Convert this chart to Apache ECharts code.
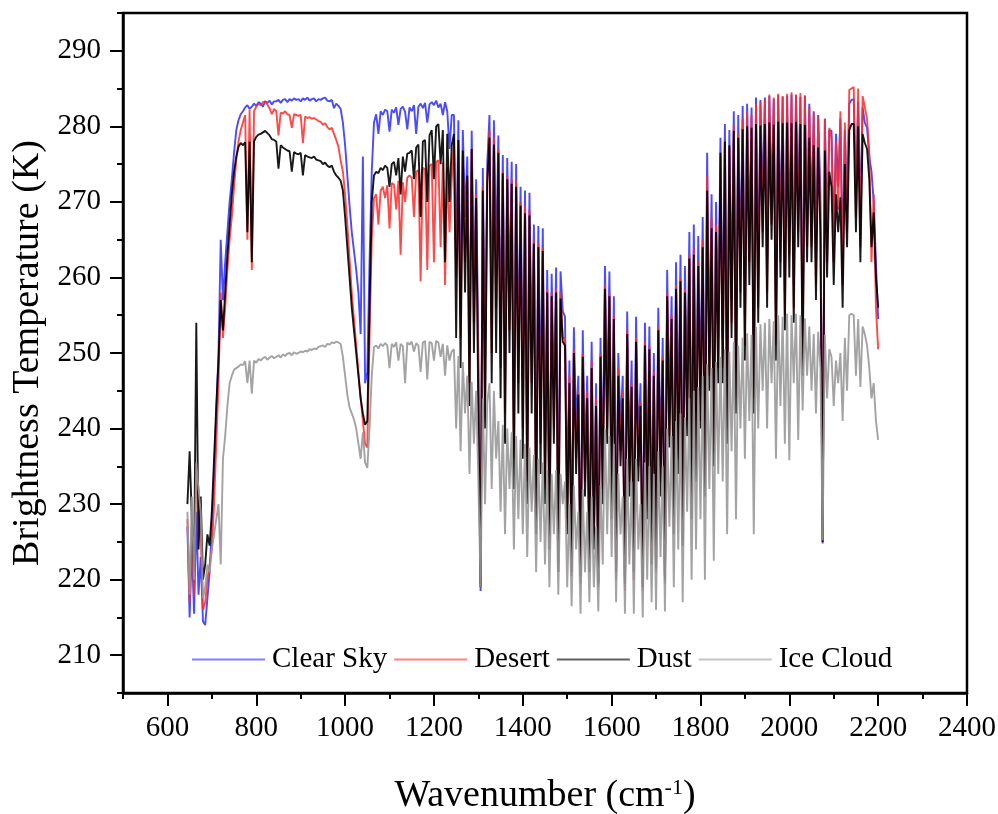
<!DOCTYPE html>
<html lang="en">
<head>
    <meta charset="UTF-8">
    <title>Brightness Temperature</title>
    <script src="https://cdn.jsdelivr.net/npm/echarts@6/dist/echarts.min.js"></script>
</head>
<body style="margin: 0; background-color: #FFFFFF">
<div id="container" style="width: 998px; height: 814px"></div>
<script type="text/javascript">
    // 波数 (cm-1)
    const wavenumber = [
        645, 650, 655, 660, 665, 670, 675, 680, 685, 690,
        695, 700, 705, 710, 715, 720, 725, 730, 735, 740,
        745, 750, 755, 760, 765, 770, 775, 780, 785, 790,
        795, 800, 805, 810, 815, 820, 825, 830, 835, 840,
        845, 850, 855, 860, 865, 870, 875, 880, 885, 890,
        895, 900, 905, 910, 915, 920, 925, 930, 935, 940,
        945, 950, 955, 960, 965, 970, 975, 980, 985, 990,
        995, 1000, 1005, 1010, 1015, 1020, 1025, 1030, 1035, 1040,
        1045, 1050, 1055, 1060, 1065, 1070, 1075, 1080, 1085, 1090,
        1095, 1100, 1105, 1110, 1115, 1120, 1125, 1130, 1135, 1140,
        1145, 1150, 1155, 1160, 1165, 1170, 1175, 1180, 1185, 1190,
        1195, 1200, 1205, 1210, 1215, 1220, 1225, 1230, 1235, 1240,
        1245, 1250, 1255, 1260, 1265, 1270, 1275, 1280, 1285, 1290,
        1295, 1300, 1305, 1310, 1315, 1320, 1325, 1330, 1335, 1340,
        1345, 1350, 1355, 1360, 1365, 1370, 1375, 1380, 1385, 1390,
        1395, 1400, 1405, 1410, 1415, 1420, 1425, 1430, 1435, 1440,
        1445, 1450, 1455, 1460, 1465, 1470, 1475, 1480, 1485, 1490,
        1495, 1500, 1505, 1510, 1515, 1520, 1525, 1530, 1535, 1540,
        1545, 1550, 1555, 1560, 1565, 1570, 1575, 1580, 1585, 1590,
        1595, 1600, 1605, 1610, 1615, 1620, 1625, 1630, 1635, 1640,
        1645, 1650, 1655, 1660, 1665, 1670, 1675, 1680, 1685, 1690,
        1695, 1700, 1705, 1710, 1715, 1720, 1725, 1730, 1735, 1740,
        1745, 1750, 1755, 1760, 1765, 1770, 1775, 1780, 1785, 1790,
        1795, 1800, 1805, 1810, 1815, 1820, 1825, 1830, 1835, 1840,
        1845, 1850, 1855, 1860, 1865, 1870, 1875, 1880, 1885, 1890,
        1895, 1900, 1905, 1910, 1915, 1920, 1925, 1930, 1935, 1940,
        1945, 1950, 1955, 1960, 1965, 1970, 1975, 1980, 1985, 1990,
        1995, 2000, 2005, 2010, 2015, 2020, 2025, 2030, 2035, 2040,
        2045, 2050, 2055, 2060, 2065, 2070, 2075, 2080, 2085, 2090,
        2095, 2100, 2105, 2110, 2115, 2120, 2125, 2130, 2135, 2140,
        2145, 2150, 2155, 2160, 2165, 2170, 2175, 2180, 2185, 2190,
        2195, 2200
    ];

    const clearSky = [
        227, 215, 224.5, 215.5, 229, 218, 223, 214.5, 214, 217.5,
        221, 227, 234, 242, 250, 265, 257, 262, 266, 270,
        273, 276.5, 279.5, 280.8, 281.6, 282, 282.5, 282.8, 282.3, 282.6,
        283, 282.7, 283.2, 283, 282.6, 283.3, 283.1, 283.4, 282.9, 283.3,
        283.3, 283.5, 283.1, 283.5, 283.6, 283.2, 283.6, 283.4, 283.7, 283.5,
        283.6, 283.3, 283.7, 283.5, 283.8, 283.4, 283.6, 283.7, 283.3, 283.6,
        283.5, 283.7, 283.8, 283.4, 283.3, 283.5, 282.4, 283, 282.7, 282.3,
        280.5, 277.5, 273.5, 269.5, 266, 263.5, 261, 258, 252.5, 276,
        246, 247.5, 262, 274, 280.5, 281.6, 279, 282, 281.5, 282.2,
        282, 279.3, 282.2, 281.8, 282.5, 280.2, 282.3, 282.6, 281.9, 279.6,
        282.5, 282, 282.8, 279, 282.6, 283, 282.4, 283.1, 280.5, 282.9,
        283.2, 282.8, 283.4, 282.5, 283, 281.5, 283.2, 282, 277, 281.5,
        281.5, 262, 280.8, 255, 279.5, 268, 276, 250, 279.4, 258,
        273, 250, 218.5, 274.5, 249, 275, 281.5, 254, 280.8, 262,
        278.8, 252, 276.2, 246, 275.8, 258, 275.3, 240, 275, 250,
        272, 246, 271.5, 238, 271.2, 250, 267, 232, 266.8, 244,
        266.5, 236, 261, 228, 260.5, 244, 261.3, 226, 260.8, 255.5,
        254.8, 231, 249, 222, 253.4, 240, 247, 219.5, 253, 236,
        247, 224, 251.5, 228, 246, 219, 252, 235, 261.5, 243,
        260.8, 232, 257.5, 222, 250, 240, 247, 219, 255.5, 236,
        249, 222, 254.8, 238, 246, 219.5, 254, 232, 253.5, 226,
        250, 224, 256, 236, 252, 220.5, 261, 242, 257.5, 230,
        262, 240, 263, 228, 261.5, 245, 266, 233, 267, 238,
        265.5, 245, 268, 236, 276.5, 250, 271, 240, 270, 252,
        278.5, 252, 280.3, 244, 279.5, 257, 282, 248, 281.5, 262,
        282.7, 255, 283, 265, 282.5, 247, 283.8, 260, 283.5, 270,
        283.8, 262, 284, 270, 283.6, 255, 284.1, 266, 283.9, 258,
        284, 266, 284.2, 259, 284.1, 270, 283.9, 252, 284, 268,
        283, 268, 282, 262, 281.5, 271, 224.8, 281, 266, 279.5,
        279.4, 265, 279, 272, 281, 262, 279.5, 270, 283, 283.5,
        283.6, 272, 283.3, 268, 282.5, 280.5, 279.8, 276, 274, 270,
        262, 254.5
    ];

    const desert = [
        228, 217, 227, 218, 235, 232, 226, 216, 217, 220,
        222, 224, 230, 238, 246, 258, 252, 256, 261, 265,
        268, 272, 275.5, 278, 279.5, 280.5, 281.5, 265, 282.2, 261,
        282, 282.6, 283, 282.8, 283.2, 283.3, 282.9, 282.4, 281.6, 282.3,
        282, 278.8, 281.8, 281.7, 282, 281.6, 281.5, 279.8, 281.6, 281.5,
        281.4, 281.5, 277.8, 281.3, 281.1, 281.2, 281, 281.1, 280.9, 280.7,
        280.6, 280.2, 280.4, 279.9, 279.6, 279.8, 279, 278.2, 277.3, 275.5,
        274, 271, 267, 262.5, 258, 254.5, 251, 247.5, 244, 241,
        238, 237.5, 252, 265, 270.5, 271, 267, 271.5, 272, 270.5,
        272.2, 266.5, 272.5, 272.3, 269, 272.8, 263, 272.6, 270, 273.2,
        273.5, 273.2, 268, 274, 274.2, 259.5, 274.5, 274.3, 261, 274.8,
        275, 262, 275.3, 275.5, 264, 275.2, 259, 274.5, 266, 273,
        278, 260, 277.5, 252, 276, 262, 273, 246, 276.8, 254,
        271, 246, 219.5, 272, 244, 273, 279.5, 250, 278.5, 256,
        277, 248, 274, 242, 273.5, 253, 273, 236, 272.8, 246,
        270, 240, 269.5, 233, 269, 246, 265, 228, 264.5, 238,
        264, 232, 258.5, 225, 258, 240, 258.5, 222, 258, 252,
        252, 228, 247, 220.5, 250.5, 236, 245, 220, 250, 233,
        245, 222, 249, 226, 244, 220, 250, 232, 259, 240,
        258, 229, 255, 220, 248, 237, 245, 218.5, 253, 233,
        246, 220, 252, 235, 243.5, 218.5, 251.5, 229, 251, 223,
        247.5, 221, 253.5, 233, 249.5, 219.5, 258, 239, 255, 227,
        259, 236, 260, 225, 258.5, 241, 263, 230, 264, 235,
        262, 241, 265, 232, 273.5, 247, 268, 237, 267, 248,
        276, 248, 278, 240, 277.2, 254, 280, 244, 279, 258,
        281, 251, 282, 262, 281.5, 244, 283, 256, 283.2, 266,
        283.5, 258, 284.2, 267, 283.8, 251, 284.3, 262, 284, 255,
        284.3, 263, 284.5, 256, 284.2, 266, 284.4, 249, 284.1, 264,
        282.6, 264, 281.8, 259, 281.3, 268, 225.2, 281, 262, 279.8,
        278.5, 262, 278, 269, 282, 259, 280.5, 266, 284.8, 285,
        285.2, 268, 285, 264, 284, 282.5, 281, 276.5, 262, 271,
        256, 250.5
    ];

    const dust = [
        230, 237, 228, 221, 254, 224, 231, 220, 222, 226,
        224.5, 229, 236, 243, 249, 257, 253, 258, 263, 267,
        271, 274, 276, 277.3, 277.8, 277.5, 277.9, 266, 278, 262,
        278, 278.6, 278.9, 279, 279.2, 279.4, 279.1, 278.8, 278.3, 278.2,
        278, 274.4, 277.5, 277.2, 277, 276.8, 276.7, 274, 276.6, 276.4,
        276.3, 276.5, 273.5, 276.2, 276, 275.9, 275.8, 276, 275.6, 275.5,
        275.4, 275, 275.2, 274.8, 274.6, 274.8, 274, 273.5, 273.2, 272.8,
        271.5, 268, 264, 260, 256, 253, 250, 247, 244, 242,
        240.5, 241, 256, 270, 273.5, 274, 273.8, 274.5, 274.2, 274.8,
        274.5, 272, 275, 275.3, 273.5, 275.8, 271, 276, 274, 276.4,
        276.5, 276.8, 273, 277.2, 277.6, 268, 278, 278.2, 270, 278.8,
        279.5, 273, 280, 280.3, 275, 279.5, 262, 279, 270, 277.5,
        279, 252, 278.2, 248, 276.8, 258, 273.5, 243, 277, 250,
        270.5, 242, 219, 271.5, 240, 272.5, 278.5, 246, 277.6, 250,
        276.5, 244, 273.8, 238, 273, 250, 272.4, 232, 272, 242,
        269.5, 236, 268.5, 230, 268.2, 242, 264.5, 226, 264, 234,
        263.5, 230, 258, 224, 257.5, 238, 258, 221, 257.2, 251.5,
        251, 226, 246, 221, 250, 234, 244.5, 220.5, 249.5, 231,
        244, 221, 248, 224, 243, 219.5, 249.5, 230, 258.5, 238,
        257.5, 228, 254.5, 221, 247, 235, 244, 219.5, 252.5, 231,
        245.5, 221, 251.5, 233, 243, 219, 251, 228, 250.5, 222,
        247, 221.5, 253, 231, 249, 220, 257.5, 237.5, 254.5, 226,
        258.5, 234, 259.5, 224.5, 258, 239, 262.5, 228, 263, 233,
        261.5, 240, 264, 231, 271.5, 245, 266.5, 235, 266, 246,
        276.5, 246, 278, 238, 277.5, 252, 279.4, 242, 278.5, 256,
        279.6, 249, 280, 259, 279.8, 242, 280.3, 254, 280.1, 264,
        280.3, 256, 280.5, 265, 280.2, 249, 280.6, 260, 280.4, 253,
        280.5, 260, 280.4, 254, 280.6, 264, 280.3, 247, 280.2, 262,
        278.5, 262, 277.5, 257, 277.2, 266, 225, 276.8, 260, 274,
        272, 259, 271, 266, 270.6, 256, 275, 264, 279.5, 280.3,
        280.3, 266, 280, 262, 279, 277.8, 277, 273, 264, 268.6,
        260, 256
    ];

    const iceCloud = [
        229, 218, 231, 220, 235.5, 232, 229, 217.5, 219, 222,
        221, 224, 226, 228, 230, 222, 236, 239, 243, 246,
        247, 247.8, 248, 248.2, 248.5, 248.4, 248.9, 246, 249, 244.6,
        249, 248.7, 249.2, 249, 249.3, 249.5, 249.1, 249.4, 249.6, 249.3,
        249.5, 249.7, 249.4, 249.8, 249.6, 249.9, 250, 249.7, 250.1, 249.9,
        250, 250.2, 250.1, 250.3, 250.2, 250.5, 250.4, 250.6, 250.5, 250.8,
        250.9, 251, 250.8, 251.2, 251.1, 251.4, 251.3, 251.5, 251.4, 251.2,
        249.5, 247, 244.5, 242.8, 242, 241.2, 240, 238, 236, 239.5,
        235.5, 234.8, 240, 247, 250.8, 251, 250.6, 251.2, 250.9, 251.3,
        251, 248, 251.2, 250.8, 251.4, 249, 251.2, 250.9, 246, 251.4,
        251.1, 251.5, 250.2, 251.3, 251, 247.5, 251.4, 251.6, 246.5, 251.5,
        251.3, 249, 251.6, 251.4, 249.5, 251.2, 247, 251, 249, 250.2,
        250.5, 240, 249.6, 237, 248.8, 242, 247, 234, 246.2, 238,
        245, 233, 219, 244, 230, 243.5, 246, 232, 245, 236,
        241, 229, 240.5, 226, 240, 232, 239.5, 224, 239, 228,
        238.5, 226, 238, 223, 237.5, 229, 236.5, 221, 236, 225,
        235.5, 222, 234.5, 219, 234, 226, 234.5, 218, 234, 230,
        233, 219, 230, 216.5, 232.5, 224, 229, 215.5, 232, 221,
        229, 217, 231, 219, 227, 215.8, 232.5, 222, 240, 226,
        239, 223, 238, 217, 234, 226, 231, 215.5, 236, 222,
        233, 215.5, 236, 224, 230, 215, 235.5, 220, 235, 217,
        234, 216, 237, 223, 235, 215.8, 240, 227, 239, 219,
        241, 224, 242, 217, 241.5, 229, 244, 220, 245, 224,
        245.5, 228, 247, 220, 248.5, 232, 248, 222.5, 248.8, 234,
        249.5, 233, 250.5, 226, 250.2, 237, 251.5, 228, 251, 240,
        252, 236, 252.6, 241, 252.4, 226, 253.5, 240, 253.8, 245,
        254, 240, 254.5, 246, 254.2, 236, 255, 243, 254.8, 238,
        255.2, 235.8, 255, 246, 255.2, 238.5, 255, 242.4, 254.6, 247,
        253.5, 245, 252.5, 242, 252.8, 248, 225.2, 252.4, 244, 250.5,
        249.5, 243, 249, 246, 250, 241, 252, 245, 255, 255.2,
        255, 247, 254.5, 245.5, 253.5, 252.5, 251, 248, 244, 246,
        241, 238.5
    ];

    // 刻度
    const xLabels = [600, 800, 1000, 1200, 1400, 1600, 1800, 2000, 2200, 2400];
    const xMinor = [500, 700, 900, 1100, 1300, 1500, 1700, 1900, 2100, 2300];
    const yLabels = [210, 220, 230, 240, 250, 260, 270, 280, 290];
    const yMinor = [205, 215, 225, 235, 245, 255, 265, 275, 285, 295];

    const font = "'Liberation Serif', 'Times New Roman', serif";

    function pairs(vals) {
        return wavenumber.map((w, i) => [w, vals[i]]);
    }

    function makeSeries(name, vals, color, opacity) {
        return {
            name: name,
            type: 'line',
            data: pairs(vals),
            symbol: 'none',
            silent: true,
            lineStyle: {color: color, width: 1.9, opacity: opacity},
            itemStyle: {color: color}
        };
    }

    let dom = document.getElementById("container");
    let myChart = echarts.init(dom);
    let option = {
        animation: false,
        backgroundColor: '#FFFFFF',
        grid: {
            left: 123, right: 31, top: 13, bottom: 121,
            outerBoundsMode: 'none', containLabel: false,
            show: true, borderColor: '#000', borderWidth: 2.5, backgroundColor: 'transparent'
        },
        legend: {
            left: 187, top: 640,
            icon: 'rect', itemWidth: 73, itemHeight: 2, itemGap: 7,
            textStyle: {fontFamily: font, fontSize: 29, color: '#000', padding: [0, 0, 0, 2]},
            data: [
                {name: 'Clear Sky', itemStyle: {color: '#8080ff'}},
                {name: 'Desert', itemStyle: {color: '#ff8080'}},
                {name: 'Dust', itemStyle: {color: '#606060'}},
                {name: 'Ice Cloud', itemStyle: {color: '#c4c4c4'}}
            ]
        },
        xAxis: [
            {
                type: 'value', min: 500, max: 2400, position: 'bottom',
                name: 'Wavenumber (cm{sup|-1})', nameLocation: 'middle', nameGap: 84,
                nameTextStyle: {
                    fontFamily: font, fontSize: 38, color: '#000',
                    rich: {sup: {fontFamily: font, fontSize: 22, color: '#000', verticalAlign: 'top', padding: [0, 0, 16, 0]}}
                },
                axisLine: {show: true, lineStyle: {color: '#000', width: 2.5}},
                axisTick: {show: true, customValues: xLabels, length: 13, lineStyle: {color: '#000', width: 2}},
                axisLabel: {
                    customValues: xLabels, margin: 21, fontFamily: font, fontSize: 29, color: '#000',
                    formatter: v => String(v)
                },
                splitLine: {show: false}
            },
            {
                type: 'value', min: 500, max: 2400, position: 'bottom',
                axisLine: {show: false},
                axisTick: {show: true, customValues: xMinor, length: 6, lineStyle: {color: '#000', width: 2}},
                axisLabel: {show: false},
                splitLine: {show: false}
            }
        ],
        yAxis: [
            {
                type: 'value', min: 205, max: 295, position: 'left',
                name: 'Brightness Temperature (K)', nameLocation: 'middle', nameGap: 63,
                nameTextStyle: {fontFamily: font, fontSize: 38, color: '#000'},
                axisLine: {show: true, lineStyle: {color: '#000', width: 2.5}},
                axisTick: {show: true, customValues: yLabels, length: 13, lineStyle: {color: '#000', width: 2}},
                axisLabel: {customValues: yLabels, margin: 22, fontFamily: font, fontSize: 29, color: '#000'},
                splitLine: {show: false}
            },
            {
                type: 'value', min: 205, max: 295, position: 'left',
                axisLine: {show: false},
                axisTick: {show: true, customValues: yMinor, length: 6, lineStyle: {color: '#000', width: 2}},
                axisLabel: {show: false},
                splitLine: {show: false}
            }
        ],
        series: [
            makeSeries('Clear Sky', clearSky, '#2a2aff', 0.85),
            makeSeries('Desert', desert, '#ff2a2a', 0.85),
            makeSeries('Dust', dust, '#000000', 0.9),
            makeSeries('Ice Cloud', iceCloud, '#999999', 0.9)
        ]
    };

    myChart.setOption(option);
</script>
</body>
</html>
